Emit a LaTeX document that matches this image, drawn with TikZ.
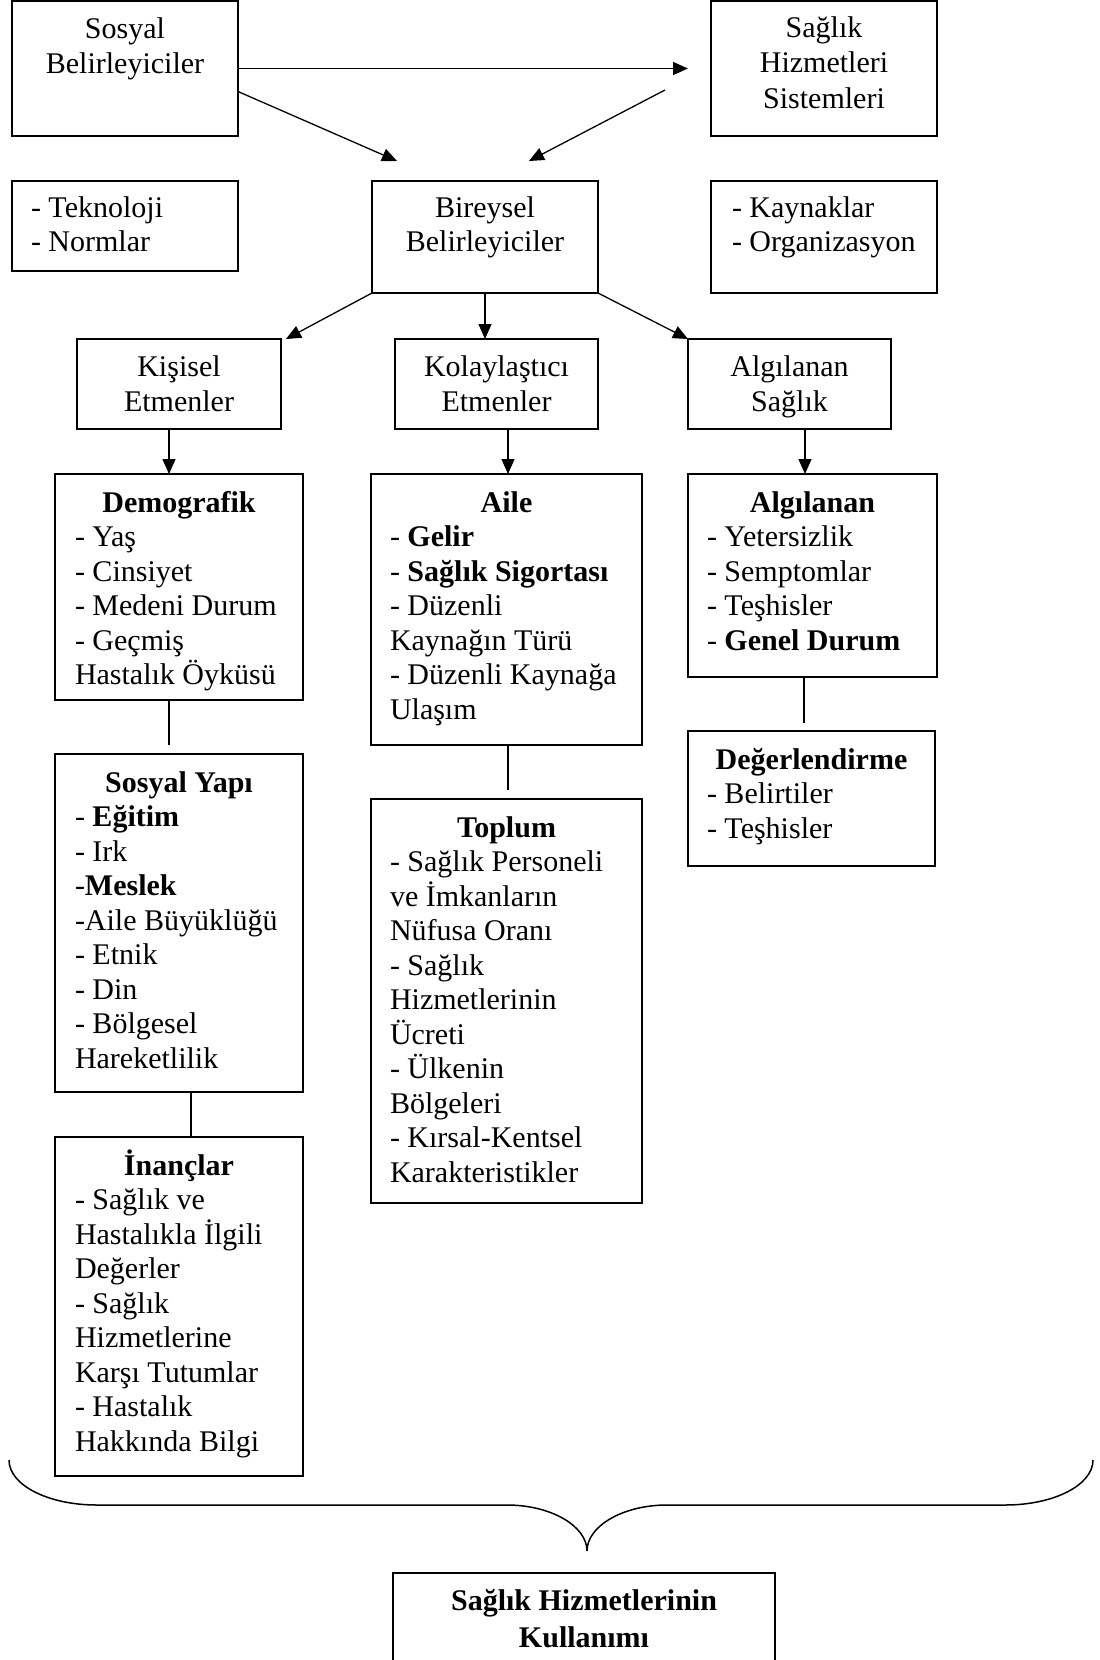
\documentclass[tikz,border=0pt]{standalone}
\usepackage{fontspec}
\setmainfont{Liberation Serif}
\usetikzlibrary{arrows.meta}
\begin{document}
\begin{tikzpicture}[x=1pt,y=-1pt,
  box/.style={draw,line width=1.5pt,inner sep=0pt,outer sep=0pt,anchor=north west},
  txt/.style={inner sep=0pt,outer sep=0pt,font=\fontsize{30}{34.5}\selectfont},
  ctxt/.style={txt,align=center,anchor=base},
  ltxt/.style={txt,align=left,anchor=base west},
  htxt/.style={txt,anchor=base,font=\fontsize{30}{34.5}\selectfont\bfseries},
  arr/.style={line width=1.3pt,-{Triangle[length=15pt,width=13pt]}},
  lnk/.style={line width=1.3pt}]
\useasboundingbox (0,0) rectangle (1100,1660);
% boxes
\node[box,minimum width=226pt,minimum height=135pt] (sosyal) at (12,1) {};
\node[box,minimum width=226pt,minimum height=135pt] (saglik) at (711,1) {};
\node[box,minimum width=226pt,minimum height=90pt] (tekno) at (12,181) {};
\node[box,minimum width=226pt,minimum height=112pt] (bireysel) at (372,181) {};
\node[box,minimum width=226pt,minimum height=112pt] (kaynak) at (711,181) {};
\node[box,minimum width=204pt,minimum height=90pt] (kisisel) at (77,339) {};
\node[box,minimum width=203pt,minimum height=90pt] (kolay) at (395,339) {};
\node[box,minimum width=203pt,minimum height=90pt] (algsag) at (688,339) {};
\node[box,minimum width=248pt,minimum height=226pt] (demo) at (55,474) {};
\node[box,minimum width=271pt,minimum height=271pt] (aile) at (371,474) {};
\node[box,minimum width=249pt,minimum height=203pt] (algi) at (688,474) {};
\node[box,minimum width=248pt,minimum height=338pt] (sosyap) at (55,754) {};
\node[box,minimum width=247pt,minimum height=135pt] (deger) at (688,731) {};
\node[box,minimum width=271pt,minimum height=404pt] (toplum) at (371,799) {};
\node[box,minimum width=248pt,minimum height=339pt] (inanc) at (55,1137) {};
\node[box,minimum width=382pt,minimum height=120pt] (final) at (393,1573) {};
% texts (base anchor = baseline of the last line)
\node[ctxt] (sosyal-t) at (125,73) {Sosyal\\Belirleyiciler};
\node[ctxt,font=\fontsize{30}{35.5}\selectfont] (saglik-t) at (824,108) {Sağlık\\Hizmetleri\\Sistemleri};
\node[ltxt] (tekno-t) at (31,251.5) {- Teknoloji\\- Normlar};
\node[ctxt] (bireysel-t) at (485,251.5) {Bireysel\\Belirleyiciler};
\node[ltxt] (kaynak-t) at (732,251.5) {- Kaynaklar\\- Organizasyon};
\node[ctxt] (kisisel-t) at (179,411) {Kişisel\\Etmenler};
\node[ctxt] (kolay-t) at (496.5,411) {Kolaylaştıcı\\Etmenler};
\node[ctxt] (algsag-t) at (789.5,411) {Algılanan\\Sağlık};
\node[htxt] (demo-h) at (179,512) {Demografik};
\node[ltxt] (demo-t) at (75,684.5) {- Yaş\\- Cinsiyet\\- Medeni Durum\\- Geçmiş\\Hastalık Öyküsü};
\node[htxt] (aile-h) at (506.5,512) {Aile};
\node[ltxt] (aile-t) at (390,719) {- \textbf{Gelir}\\- \textbf{Sağlık Sigortası}\\- Düzenli\\Kaynağın Türü\\- Düzenli Kaynağa\\Ulaşım};
\node[htxt] (algi-h) at (812.5,512) {Algılanan};
\node[ltxt] (algi-t) at (707,650) {- Yetersizlik\\- Semptomlar\\- Teşhisler\\- \textbf{Genel Durum}};
\node[htxt] (sosyap-h) at (179,792) {Sosyal Yapı};
\node[ltxt] (sosyap-t) at (75,1068) {- \textbf{Eğitim}\\- Irk\\-\textbf{Meslek}\\-Aile Büyüklüğü\\- Etnik\\- Din\\- Bölgesel\\Hareketlilik};
\node[htxt] (deger-h) at (811.5,769) {Değerlendirme};
\node[ltxt] (deger-t) at (707,838) {- Belirtiler\\- Teşhisler};
\node[htxt] (toplum-h) at (506.5,837) {Toplum};
\node[ltxt] (toplum-t) at (390,1182) {- Sağlık Personeli\\ve İmkanların\\Nüfusa Oranı\\- Sağlık\\Hizmetlerinin\\Ücreti\\- Ülkenin\\Bölgeleri\\- Kırsal-Kentsel\\Karakteristikler};
\node[htxt] (inanc-h) at (179,1175) {İnançlar};
\node[ltxt] (inanc-t) at (75,1451) {- Sağlık ve\\Hastalıkla İlgili\\Değerler\\- Sağlık\\Hizmetlerine\\Karşı Tutumlar\\- Hastalık\\Hakkında Bilgi};
\node[txt,align=center,anchor=base,font=\fontsize{30}{37}\selectfont\bfseries] (final-t) at (584,1647) {Sağlık Hizmetlerinin\\Kullanımı};
% free ends
\coordinate (t1) at (397,161);
\coordinate (s2) at (665,90);
\coordinate (t2) at (529,161);
% connectors
\draw[arr] (sosyal.east) -- ([xshift=-23pt]saglik.west);
\draw[arr] ([yshift=-23pt]sosyal.east) -- (t1);
\draw[arr] (s2) -- (t2);
\draw[arr] (bireysel.south west) -- ([xshift=5pt]kisisel.north east);
\draw[arr] (bireysel.south) -- (bireysel.south |- kolay.north);
\draw[arr] (bireysel.south east) -- (algsag.north west);
\draw[arr] ([xshift=-10pt]kisisel.south) -- ([xshift=-10pt]kisisel.south |- demo.north);
\draw[arr] ([xshift=11.5pt]kolay.south) -- ([xshift=11.5pt]kolay.south |- aile.north);
\draw[arr] ([xshift=15.5pt]algsag.south) -- ([xshift=15.5pt]algsag.south |- algi.north);
\draw[lnk] ([xshift=-10pt]demo.south) -- ++(0,45);
\draw[lnk] ([xshift=12pt]sosyap.south) -- ([xshift=12pt]sosyap.south |- inanc.north);
\draw[lnk] ([xshift=1.5pt]aile.south) -- ++(0,45);
\draw[lnk] ([xshift=-8.5pt]algi.south) -- ++(0,46);
% brace
\draw[line width=1.5pt] (9,1460) .. controls (9,1485) and (48,1505) .. (97,1505) -- (507,1505)
  .. controls (551,1505) and (587,1526) .. (587,1551)
  .. controls (587,1526) and (623,1505) .. (667,1505) -- (1005,1505)
  .. controls (1054,1505) and (1093,1485) .. (1093,1460);
\end{tikzpicture}
\end{document}
